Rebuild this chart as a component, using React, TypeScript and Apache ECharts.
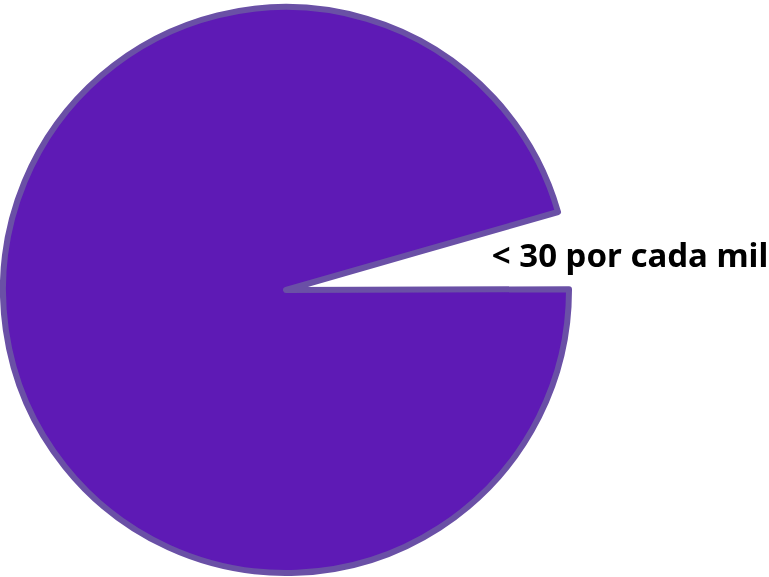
import React, { useEffect, useRef } from "react";
import * as echarts from "echarts";

const categories = ["< 30 por cada mil", ">= 30 por cada mil"];
const values = [4.4, 95.6];

export default function App() {
  const ref = useRef<HTMLDivElement>(null);
  useEffect(() => {
    if (!ref.current) return;
    const chart = echarts.init(ref.current, undefined, { renderer: "svg" });
    chart.setOption({
      animation: false,
      series: [
        {
          type: "pie",
          center: [286, 290],
          radius: [0, 283],
          startAngle: 16,
          clockwise: true,
          silent: true,
          data: categories.map((name, i) =>
            i === 0
              ? {
                  name,
                  value: values[i],
                  itemStyle: { color: "rgba(0,0,0,0)", borderWidth: 0 },
                  label: {
                    show: true,
                    position: "inside",
                    formatter: "{b}",
                    fontFamily: "Noto Sans",
                    fontWeight: "bold",
                    fontSize: 33,
                    color: "#000",
                    offset: [201, -15],
                  },
                }
              : {
                  name,
                  value: values[i],
                  itemStyle: {
                    color: "#5e1ab5",
                    borderColor: "#6a50a6",
                    borderWidth: 6,
                    borderJoin: "round",
                  },
                  label: { show: false },
                }
          ),
          labelLine: { show: false },
        },
      ],
    });
    return () => chart.dispose();
  }, []);
  return (
    <div
      ref={ref}
      style={{ position: "fixed", left: 0, top: 0, width: 769, height: 577 }}
    />
  );
}
